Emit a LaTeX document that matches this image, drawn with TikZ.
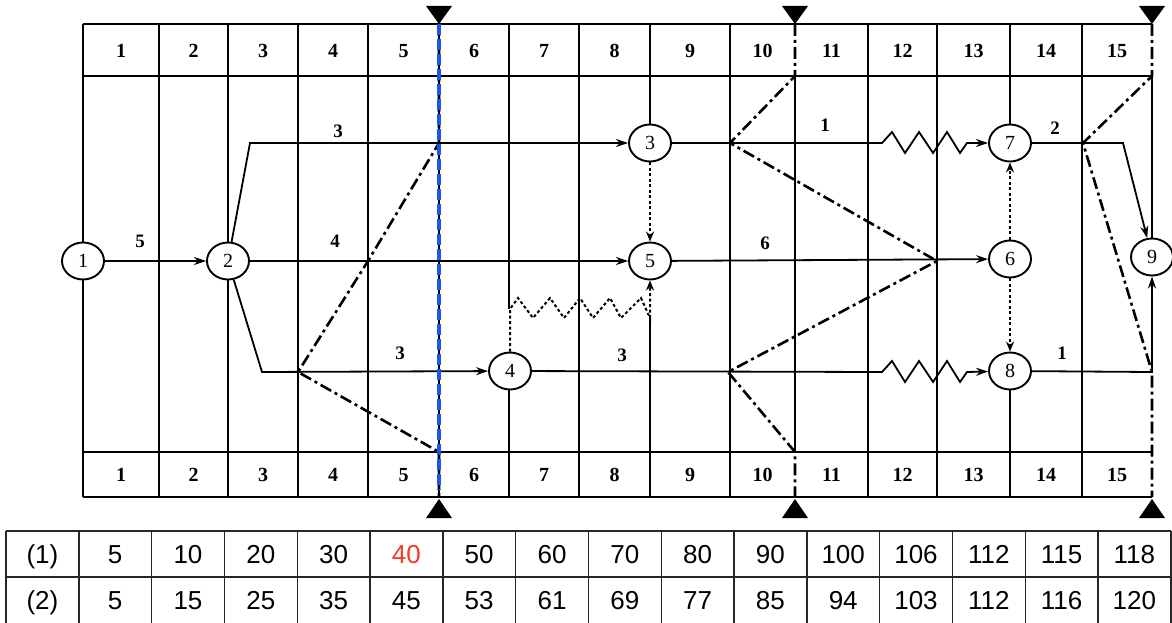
\documentclass[tikz,border=0pt]{standalone}
\usepackage{fontspec}
\setmainfont{Liberation Serif}
\newfontfamily\tabfont{Liberation Sans}
\usetikzlibrary{arrows.meta,shapes.geometric}
\definecolor{frontblue}{RGB}{25,85,240}
\definecolor{hlred}{RGB}{238,62,30}
\begin{document}
\begin{tikzpicture}[x=1pt,y=-1pt,
  gridline/.style={line width=1.8pt},
  evt/.style={draw,ellipse,line width=1.9pt,fill=white,minimum width=42pt,minimum height=37pt,inner sep=0pt,font=\fontsize{20}{20}\selectfont},
  work/.style={line width=1.8pt,-{Stealth[length=12pt,width=8pt]}},
  virt/.style={line width=2pt,dash pattern=on 3pt off 2.5pt,-{Stealth[length=10pt,width=8pt]}},
  frontline/.style={line width=2.6pt,dash pattern=on 12pt off 4pt on 3pt off 4pt},
  hdr/.style={font=\fontsize{20}{20}\selectfont\bfseries},
  lbl/.style={font=\fontsize{19}{19}\selectfont\bfseries},
  cell/.style={font=\tabfont\fontsize{26}{26}\selectfont,text height=19pt,text depth=0pt,inner sep=0pt},
  tabline/.style={line width=1.4pt,black!85}]
\useasboundingbox (0,0) rectangle (1172,623);
\fill[white] (0,0) rectangle (1172,623);

% grid
\foreach \x in {83,159,228,298,368,439,579,730,868,937,1082}
  \draw[gridline] (\x,24) -- (\x,497);
\draw[gridline] (509,24) -- (509,309);
\draw[gridline] (509,371) -- (509,497);
\draw[gridline] (650,24) -- (650,143);
\draw[gridline] (650,318) -- (650,497);
\draw[gridline] (795,76) -- (795,452);
\draw[gridline] (1010,24) -- (1010,143);
\draw[gridline] (1010,371) -- (1010,497);
\foreach \y in {24,76,452,497}
  \draw[gridline] (83,\y) -- (1152,\y);

% header / footer numbers
\foreach \a/\b [count=\i] in {83/159,159/228,228/298,298/368,368/439,439/509,509/579,579/650,650/730,730/795,795/868,868/937,937/1010,1010/1082,1082/1152}{
  \node[hdr] (h\i) at ({(\a+\b)/2},51) {\i};
  \node[hdr] (f\i) at ({(\a+\b)/2},475) {\i};
}

% events
\node[evt] (n1) at (83,261) {1};
\node[evt] (n2) at (228,261) {2};
\node[evt] (n3) at (650,143) {3};
\node[evt] (n4) at (510,371) {4};
\node[evt] (n5) at (650,261) {5};
\node[evt] (n6) at (1010,259) {6};
\node[evt] (n7) at (1010,143) {7};
\node[evt] (n8) at (1010,371) {8};
\node[evt] (n9) at (1152,257) {9};
\draw[gridline] (1152,76) -- (n9);

% real works
\draw[work] (n1) -- (n2);
\draw[work] (n2) -- (250,143) -- (n3);
\draw[work] (n2) -- (n5);
\draw[work] (n2) -- (262,372) -- (n4);
\draw[work] (n3) -- (882,143) -- (892,132) -- (905,153) -- (919,132) -- (933,153) -- (947,132) -- (960,153) -- (967,143) -- (n7);
\draw[work] (n7) -- (1123,143) -- (n9);
\draw[work] (n5) -- (n6);
\draw[work] (n4) -- (882,372) -- (892,361) -- (905,382) -- (919,361) -- (933,382) -- (947,361) -- (960,382) -- (967,372) -- (n8);
\draw[work] (n8) -- (1152,372) -- (n9);

% virtual works
\draw[virt] (n3) -- (n5);
\draw[virt] (n4) -- (510,309) -- (518,298) -- (533,318) -- (550,298) -- (564,318) -- (580,298) -- (593,318) -- (610,298) -- (621,318) -- (641,298) -- (650,318) -- (n5);
\draw[virt] (n6) -- (n7);
\draw[virt] (n6) -- (n8);

% durations
\node[lbl] (d12) at (140,241) {5};
\node[lbl] (d23) at (338,131) {3};
\node[lbl] (d25) at (335,241) {4};
\node[lbl] (d24) at (400,353) {3};
\node[lbl] (d48) at (622,355) {3};
\node[lbl] (d37) at (825,125) {1};
\node[lbl] (d56) at (765,243) {6};
\node[lbl] (d79) at (1055,128) {2};
\node[lbl] (d89) at (1062,353) {1};

% check lines
\draw[frontline] (439,24) -- (439,143) -- (368,261) -- (298,372) -- (439,452) -- (439,497);
\draw[line width=4.2pt,frontblue,dash pattern=on 11pt off 4pt] (439,24) -- (439,490);
\draw[frontline] (795,24) -- (795,76) -- (730,143) -- (937,261) -- (728,372) -- (795,452) -- (795,497);
\draw[frontline] (1152,24) -- (1152,76) -- (1083,143) -- (1152,372) -- (1152,497);
\foreach \x in {439,795,1152}{
  \fill (\x-13,6) -- (\x+13,6) -- (\x,24) -- cycle;
  \fill (\x-13,518) -- (\x+13,518) -- (\x,499) -- cycle;
}

% table
\foreach \i in {0,...,16}
  \draw[tabline] ({6+72.8*\i},531) -- ({6+72.8*\i},624);
\draw[tabline] (6,531) -- ({6+72.8*16},531);
\draw[tabline] (6,577) -- ({6+72.8*16},577);
\foreach \v [count=\i from 0] in {{(1)},5,10,20,30,{\textcolor{hlred}{40}},50,60,70,80,90,100,106,112,115,118}
  \node[cell,anchor=base] (ra\i) at ({6+72.8*\i+36.4},563) {\v};
\foreach \v [count=\i from 0] in {{(2)},5,15,25,35,45,53,61,69,77,85,94,103,112,116,120}
  \node[cell,anchor=base] (rb\i) at ({6+72.8*\i+36.4},609) {\v};
\end{tikzpicture}
\end{document}
